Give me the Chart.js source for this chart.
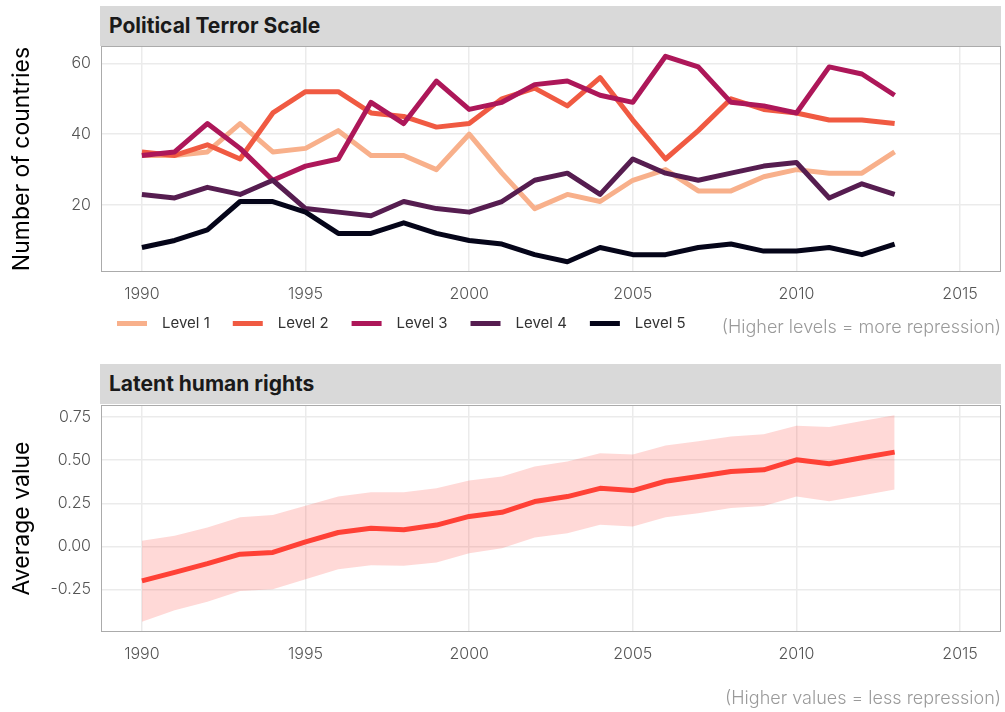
<!DOCTYPE html>
<html>
<head>
<meta charset="utf-8">
<script src="https://cdn.jsdelivr.net/npm/chart.js@4.4.1/dist/chart.umd.min.js"></script>
<style>
  body { margin: 0; background: #fff; width: 1005px; height: 712px; position: relative; overflow: hidden; font-family: Inter, Roboto, sans-serif; }
  canvas { position: absolute; left: 0; }
  .strip { position: absolute; left: 100px; width: 901px; height: 40px; background: #d9d9d9;
           font: 700 21px Inter, Roboto, sans-serif; color: #1a1a1a; line-height: 40px; padding-left: 9px; box-sizing: border-box; }
  .caption { position: absolute; right: 4px; font: 300 18px Inter, Roboto, sans-serif; color: #9a9a9a; }
</style>
</head>
<body>
<div class="strip" style="top:6px">Political Terror Scale</div>
<div class="strip" style="top:364px">Latent human rights</div>
<canvas id="ptsChart" width="1005" height="342" style="top:0"></canvas>
<canvas id="lhrChart" width="1005" height="362" style="top:350px"></canvas>
<div class="caption" style="top:316px">(Higher levels = more repression)</div>
<div class="caption" style="top:687px">(Higher values = less repression)</div>
<script>
// Years covered by both panels
const years = [1990, 1991, 1992, 1993, 1994, 1995, 1996, 1997, 1998, 1999, 2000, 2001,
               2002, 2003, 2004, 2005, 2006, 2007, 2008, 2009, 2010, 2011, 2012, 2013];

// Political Terror Scale: number of countries at each level
const levelNames = ['Level 1', 'Level 2', 'Level 3', 'Level 4', 'Level 5'];
const level1 = [34, 34, 35, 43, 35, 36, 41, 34, 34, 30, 40, 29, 19, 23, 21, 27, 30, 24, 24, 28, 30, 29, 29, 35];
const level2 = [35, 34, 37, 33, 46, 52, 52, 46, 45, 42, 43, 50, 53, 48, 56, 44, 33, 41, 50, 47, 46, 44, 44, 43];
const level3 = [34, 35, 43, 36, 27, 31, 33, 49, 43, 55, 47, 49, 54, 55, 51, 49, 62, 59, 49, 48, 46, 59, 57, 51];
const level4 = [23, 22, 25, 23, 27, 19, 18, 17, 21, 19, 18, 21, 27, 29, 23, 33, 29, 27, 29, 31, 32, 22, 26, 23];
const level5 = [8, 10, 13, 21, 21, 18, 12, 12, 15, 12, 10, 9, 6, 4, 8, 6, 6, 8, 9, 7, 7, 8, 6, 9];
const levelColors = ['#f8b08b', '#f05a42', '#ad1759', '#561d50', '#050519'];

// Latent human rights: average and its band
const lhrMean  = [-0.20, -0.15, -0.10, -0.045, -0.035, 0.027, 0.081, 0.105, 0.097, 0.124, 0.174, 0.198,
                  0.26, 0.289, 0.337, 0.324, 0.378, 0.405, 0.434, 0.444, 0.502, 0.479, 0.514, 0.547];
const lhrUpper = [0.033, 0.062, 0.11, 0.169, 0.182, 0.236, 0.289, 0.314, 0.314, 0.337, 0.382, 0.405,
                  0.463, 0.492, 0.541, 0.533, 0.585, 0.61, 0.638, 0.65, 0.70, 0.692, 0.727, 0.76];
const lhrLower = [-0.436, -0.37, -0.32, -0.258, -0.248, -0.19, -0.132, -0.109, -0.112, -0.093, -0.039, -0.01,
                  0.052, 0.076, 0.126, 0.115, 0.169, 0.192, 0.223, 0.234, 0.289, 0.262, 0.295, 0.33];

// Tick labels
const yearTicks = [1990, 1995, 2000, 2005, 2010, 2015];
const ptsTicks = [20, 40, 60];
const lhrTicks = [-0.25, 0, 0.25, 0.5, 0.75];

const toPoints = vals => years.map((yr, i) => ({ x: yr, y: vals[i] }));

const gridColor = '#ebebeb';
const tickFont = { family: 'Inter, Roboto, sans-serif', size: 16, weight: 300 };
const tickColor = '#555555';

// panel border around the plotting area
const panelBorder = {
    id: 'panelBorder',
    afterDatasetsDraw(chart) {
        const a = chart.chartArea, ctx = chart.ctx;
        ctx.save();
        ctx.strokeStyle = '#ababab';
        ctx.lineWidth = 1;
        ctx.strokeRect(a.left + 0.5, a.top + 0.5, a.right - a.left - 1, a.bottom - a.top - 1);
        ctx.restore();
    }
};

// fixed legend height and start position
const legendPlace = {
    id: 'legendPlace',
    beforeInit(chart) {
        const lg = chart.legend;
        if (!lg) return;
        const fit = lg.fit.bind(lg);
        lg.fit = function () { fit(); this.height = 34; };
    },
    afterLayout(chart) {
        if (chart.legend) chart.legend.left = 117 - chart.legend.options.labels.padding;
    }
};

function xScale() {
    return {
        type: 'linear', min: 1988.75, max: 2016.25,
        afterBuildTicks: s => { s.ticks = yearTicks.map(v => ({ value: v })); },
        afterFit: s => { s.height = 36; },
        grid: { color: gridColor, lineWidth: 1.5, drawTicks: false },
        border: { display: false },
        ticks: { font: tickFont, color: tickColor, padding: 13, maxRotation: 0,
                 callback: v => String(v) }
    };
}

function yScale(min, max, ticks, title, fmt) {
    return {
        min: min, max: max,
        afterBuildTicks: s => { s.ticks = ticks.map(v => ({ value: v })); },
        afterFit: s => { s.width = 101; },
        grid: { color: gridColor, lineWidth: 1.5, drawTicks: false },
        border: { display: false },
        ticks: { font: tickFont, color: tickColor, padding: 10, callback: fmt },
        title: { display: true, text: title, color: '#000',
                 font: { family: 'Inter, Roboto, sans-serif', size: 23 }, padding: { top: 8, bottom: 0 } }
    };
}

document.addEventListener('DOMContentLoaded', () => {
    const levels = [level1, level2, level3, level4, level5];
    new Chart(document.getElementById('ptsChart'), {
        type: 'line',
        data: {
            datasets: levels.map((vals, i) => ({
                label: levelNames[i],
                data: toPoints(vals),
                borderColor: levelColors[i],
                backgroundColor: levelColors[i],
                borderWidth: 5,
                borderJoinStyle: 'round',
                pointRadius: 0,
                tension: 0,
                order: levels.length - i
            }))
        },
        options: {
            responsive: false,
            animation: false,
            layout: { padding: { top: 46, right: 4, left: 0, bottom: 0 } },
            scales: {
                x: xScale(),
                y: yScale(1.1, 64.9, ptsTicks, 'Number of countries', v => String(v))
            },
            plugins: {
                legend: {
                    position: 'bottom', align: 'start',
                    labels: {
                        boxWidth: 30, boxHeight: 5, padding: 8,
                        color: '#333', font: { family: 'Inter, Roboto, sans-serif', size: 15 },
                        sort: (a, b) => a.datasetIndex - b.datasetIndex,
                        generateLabels: chart => Chart.defaults.plugins.legend.labels.generateLabels(chart)
                            .map(item => Object.assign(item, { text: '\u2002' + item.text + '\u2003', lineWidth: 0 }))
                    }
                },
                tooltip: { enabled: false }
            }
        },
        plugins: [panelBorder, legendPlace]
    });

    new Chart(document.getElementById('lhrChart'), {
        type: 'line',
        data: {
            datasets: [
                { label: 'upper', data: toPoints(lhrUpper), borderWidth: 0, pointRadius: 0,
                  backgroundColor: 'rgba(255, 65, 54, 0.2)', fill: '+1', order: 3 },
                { label: 'lower', data: toPoints(lhrLower), borderWidth: 0, pointRadius: 0,
                  backgroundColor: 'rgba(255, 65, 54, 0.2)', fill: false, order: 2 },
                { label: 'Average value', data: toPoints(lhrMean), borderColor: '#ff4136',
                  borderWidth: 5, borderJoinStyle: 'round', pointRadius: 0, fill: false, order: 1 }
            ]
        },
        options: {
            responsive: false,
            animation: false,
            layout: { padding: { top: 55, right: 4, left: 0, bottom: 44 } },
            scales: {
                x: xScale(),
                y: yScale(-0.496, 0.82, lhrTicks, 'Average value', v => v.toFixed(2))
            },
            plugins: { legend: { display: false }, tooltip: { enabled: false } }
        },
        plugins: [panelBorder]
    });
});
</script>
</body>
</html>
